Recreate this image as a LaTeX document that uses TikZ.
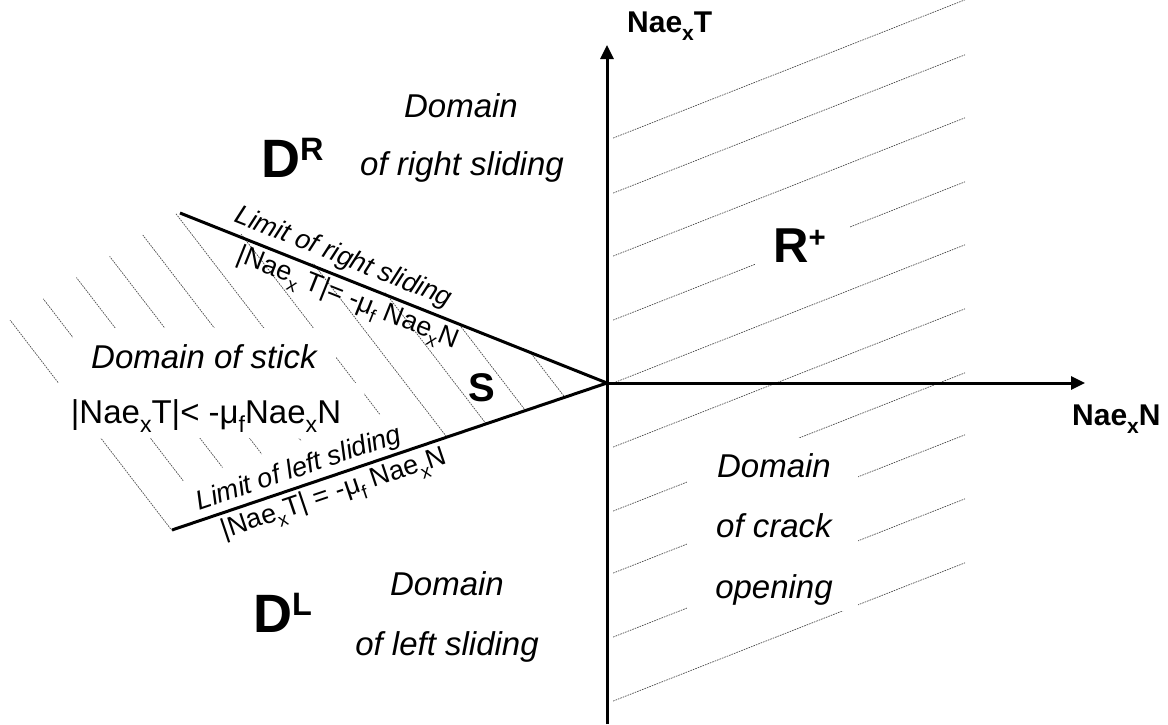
\documentclass[tikz,border=0pt]{standalone}
\usepackage{fontspec}
\setmainfont{Liberation Sans}
\usepackage{graphicx}
\usetikzlibrary{arrows.meta}
\newcommand{\lsub}[1]{\raisebox{-0.28em}{\scalebox{0.7}{#1}}}
\newcommand{\usup}[1]{\raisebox{0.3em}{\scalebox{0.6}{#1}}}
\begin{document}
\begin{tikzpicture}[x=1pt,y=-1pt,
  hatch/.style={line width=0.7pt, black!70, dash pattern=on 1.6pt off 1pt},
  axis/.style={line width=3pt, -{Triangle[length=14pt,width=13pt]}},
  limitline/.style={line width=3pt},
  whitebox/.style={fill=white},
  dom/.style={font=\fontsize{33}{40}\selectfont\itshape, anchor=base, inner sep=0},
  eq/.style={font=\fontsize{33}{40}\selectfont, anchor=base, inner sep=0},
  lab/.style={font=\fontsize{27}{31}\selectfont, sloped, inner sep=0},
  axlab/.style={font=\fontsize{30}{36}\selectfont\bfseries, anchor=base west, inner sep=0},
  big/.style={font=\fontsize{54}{60}\selectfont\bfseries, anchor=base west, inner sep=0},
  mid/.style={font=\fontsize{49}{56}\selectfont\bfseries, anchor=base west, inner sep=0},
  sl/.style={font=\fontsize{40}{46}\selectfont\bfseries, anchor=base, inner sep=0}]
\useasboundingbox (0,0) rectangle (1168,724);
\coordinate (O) at (607,383);
\coordinate (P1) at (180,213);
\coordinate (P2) at (172,530);
\coordinate (Ttop) at (607,45);
\coordinate (Bot) at (607,724);
\coordinate (Nend) at (1085,383);
% hatching, stick domain
\begin{scope}
\clip (4,324) -- (182,210) -- (O) -- (P2) -- (167,532) -- cycle;
\foreach \n in {0,...,10} {
  \pgfmathsetmacro\k{307-64.4*\n}
  \draw[hatch] (0,\k) -- (620,{806+\k});
}
\end{scope}
% hatching, crack opening half plane
\begin{scope}
\clip (613,0) rectangle (965,724);
\foreach \c in {379,434,497,561,624,688,752,814,878,942} {
  \draw[hatch] (613,{\c-240.9}) -- (965,{\c-379.2});
}
\end{scope}
% white text boxes
\fill[whitebox] (73,328) rectangle (336,383);
\fill[whitebox] (57,383) rectangle (364,438);
\fill[whitebox] (172,530) -- (413.5,448.4) -- (399.7,407.7) -- (158.2,489.3) -- cycle;
\fill[whitebox] (755,215) rectangle (850,272);
\fill[whitebox] (687,438) rectangle (858,611);
% axes and limits
\draw[axis] (Bot) -- (Ttop);
\draw[axis] (O) -- (Nend);
\draw[limitline] (P1) -- (O);
\draw[limitline] (P2) -- (O);
% axis labels
\node[axlab] (lT) at (627,32) {Nae\lsub{x}T};
\node[axlab] (lN) at (1072,425) {Nae\lsub{x}N};
% line labels
\path (P1) -- (O) node[lab, pos=0.366, above=6pt] (lr) {\itshape Limit of right sliding}
                  node[lab, pos=0.408, below=4.5pt] (lre) {|Nae\lsub{x} T|= -μ\lsub{f} Nae\lsub{x}N};
\path (P2) -- (O) node[lab, pos=0.305, above=4pt] (ll) {\itshape Limit of left sliding}
                  node[lab, pos=0.36, below=5pt] (lle) {|Nae\lsub{x}T| = -μ\lsub{f} Nae\lsub{x}N};
% domain labels
\node[big] (DR) at (261,177) {D\usup{R}};
\node[big] (DL) at (253,632) {D\usup{L}};
\node[mid] (Rp) at (773,262) {R\usup{+}};
\node[sl] (S) at (482,401) {S};
\node[dom] (dr1) at (461,117) {Domain};
\node[dom] (dr2) at (462,175) {of right sliding};
\node[dom] (dl1) at (447,595) {Domain};
\node[dom] (dl2) at (447,655) {of left sliding};
\node[dom] (dc1) at (774,477) {Domain};
\node[dom] (dc2) at (774,537) {of crack};
\node[dom] (dc3) at (774,598) {opening};
\node[dom] (ds1) at (204,368) {Domain of stick};
\node[eq] (ds2) at (206,423) {|Nae\lsub{x}T|< -μ\lsub{f}Nae\lsub{x}N};
\end{tikzpicture}
\end{document}
